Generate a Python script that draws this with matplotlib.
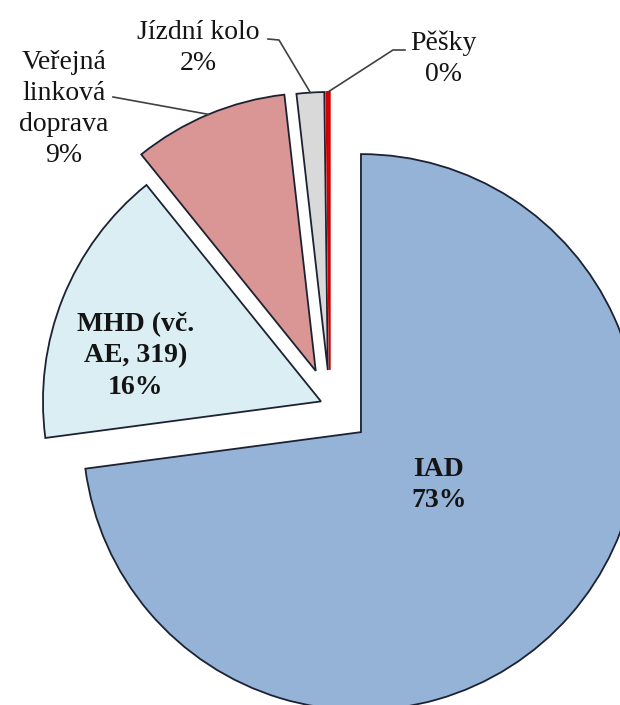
import matplotlib
matplotlib.use("Agg")
import matplotlib.pyplot as plt
import numpy as np

# Data
categories = ["IAD", "MHD (vč.\nAE, 319)", "Veřejná\nlinková\ndoprava", "Jízdní kolo", "Pěšky"]
values = [72.9, 16.3, 9.0, 1.6, 0.2]
colors = ["#95B3D7", "#DBEEF4", "#D99694", "#D9D9D9", "#E00000"]
explode = [0.148, 0.035, 0.133, 0.126, 0.126]

# geometry helpers (pixel layout of the reference)
CX, CY, R = 330.0, 405.0, 278.0
W, H = 620, 705


def px(x, y):
    return ((x - CX) / R, (CY - y) / R)


fig = plt.figure(figsize=(W / 100, H / 100), dpi=100)
fig.patch.set_facecolor("white")
ax = fig.add_axes([0, 0, 1, 1])

wedges, _ = ax.pie(values, colors=colors, explode=explode, startangle=90,
                   counterclock=False, radius=1.0,
                   wedgeprops=dict(edgecolor="#1c2233", linewidth=1.3))
# the tiny red slice has a red edge in the reference
wedges[4].set_edgecolor("#D00000")

ax.set_xlim(-CX / R, (W - CX) / R)
ax.set_ylim(-(H - CY) / R, CY / R)
ax.set_aspect("equal")
ax.axis("off")

pct = [f"{int(round(v))}%" for v in values]
font = dict(family=["Liberation Serif", "DejaVu Serif"], fontsize=20,
            color="#141414", ha="center", va="center", linespacing=1.33)

# inside labels
ax.text(*px(439, 485), f"{categories[0]}\n{pct[0]}", fontweight="bold", **font)
ax.text(*px(136, 356), f"{categories[1]}\n{pct[1]}", fontweight="bold", **font)

# outside labels with leader lines
ax.text(*px(64, 109), f"{categories[2]}\n{pct[2]}", **font)
ax.text(*px(198, 48), f"{categories[3]}\n{pct[3]}", **font)
ax.text(*px(443, 59), f"{categories[4]}\n{pct[4]}", **font)


def arc_mid(w):
    th = np.deg2rad((w.theta1 + w.theta2) / 2)
    cx, cy = w.center
    return cx + w.r * np.cos(th), cy + w.r * np.sin(th)


lc = dict(color="#404040", linewidth=1.2)
# Veřejná linková doprava
p0 = px(113, 97)
p1 = arc_mid(wedges[2])
ax.plot([p0[0], p1[0]], [p0[1], p1[1]], **lc)
# Jízdní kolo
a = px(268, 39); b = px(279, 40); c = arc_mid(wedges[3])
ax.plot([a[0], b[0], c[0]], [a[1], b[1], c[1]], **lc)
# Pěšky
a = px(405, 50); b = px(393, 50); c = arc_mid(wedges[4])
ax.plot([a[0], b[0], c[0]], [a[1], b[1], c[1]], **lc)

fig.savefig("out.png", dpi=100, facecolor="white")
